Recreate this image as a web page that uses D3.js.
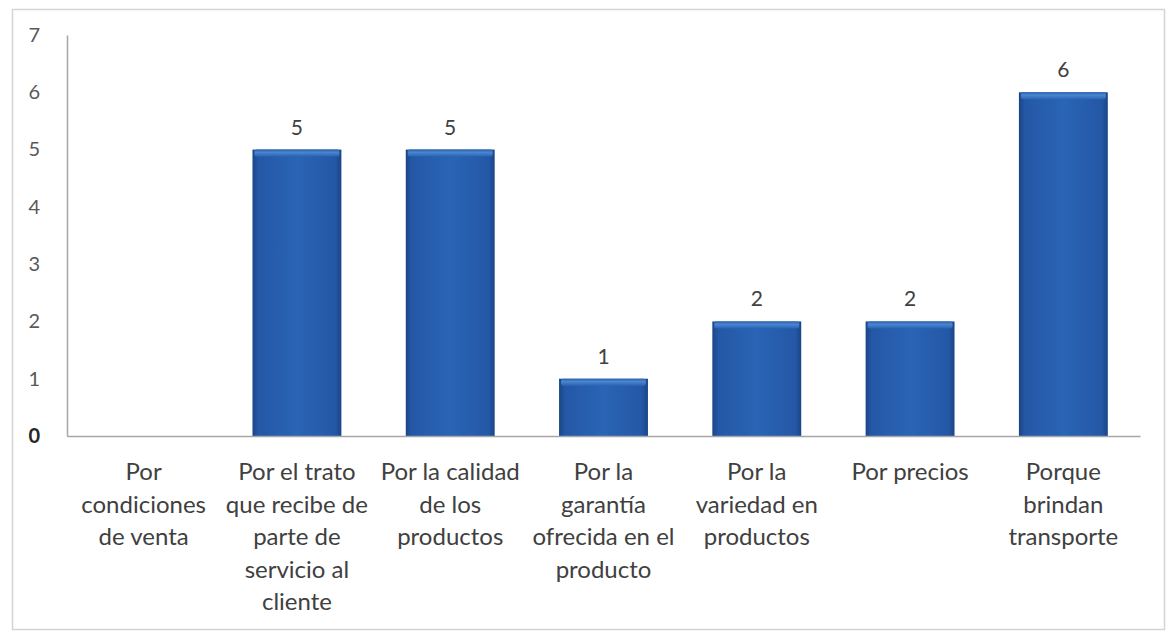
<!DOCTYPE html>
<html><head><meta charset="utf-8">
<script src="https://cdn.jsdelivr.net/npm/d3@7"></script>
<style>
html,body{margin:0;padding:0;background:#fff;}
svg{display:block;font-family:Lato, "Open Sans", sans-serif;}
</style></head>
<body>
<svg id="c" width="1167" height="632"></svg>
<script>
const categories = [
  "Por\ncondiciones\nde venta",
  "Por el trato\nque recibe de\nparte de\nservicio al\ncliente",
  "Por la calidad\nde los\nproductos",
  "Por la\ngarantía\nofrecida en el\nproducto",
  "Por la\nvariedad en\nproductos",
  "Por precios",
  "Porque\nbrindan\ntransporte"
];
const values = [0, 5, 5, 1, 2, 2, 6];
const yTicks = [0, 1, 2, 3, 4, 5, 6, 7];

const svg = d3.select("#c");
const W = 1167, H = 632;
const m = {left: 67, right: 27, top: 35, bottom: 196};

svg.append("rect").attr("x", 12.5).attr("y", 9.5).attr("width", 1152).attr("height", 620)
  .attr("fill", "#fff").attr("stroke", "#d4d4d4").attr("stroke-width", 1.5);

const x = d3.scaleBand().domain(categories).range([m.left, W - m.right]).paddingInner(0.42).paddingOuter(0.21);
const y = d3.scaleLinear().domain([0, 7]).range([H - m.bottom, m.top]);

const defs = svg.append("defs");
const g1 = defs.append("linearGradient").attr("id", "barg").attr("x1", 0).attr("x2", 1).attr("y1", 0).attr("y2", 0);
g1.append("stop").attr("offset", "0%").attr("stop-color", "#1b4587");
g1.append("stop").attr("offset", "7%").attr("stop-color", "#2458a6");
g1.append("stop").attr("offset", "50%").attr("stop-color", "#2a64b5");
g1.append("stop").attr("offset", "93%").attr("stop-color", "#2458a6");
g1.append("stop").attr("offset", "100%").attr("stop-color", "#1b4587");
const g2 = defs.append("linearGradient").attr("id", "topg").attr("x1", 0).attr("x2", 0).attr("y1", 0).attr("y2", 1);
g2.append("stop").attr("offset", "0%").attr("stop-color", "#2a5fae");
g2.append("stop").attr("offset", "40%").attr("stop-color", "#4a86cf");
g2.append("stop").attr("offset", "100%").attr("stop-color", "#2a64b5");

// axes
const yAxis = svg.append("g").attr("transform", `translate(${m.left},0)`)
  .call(d3.axisLeft(y).tickValues(yTicks).tickSize(0).tickPadding(27).tickFormat(d3.format("d")));
yAxis.attr("font-family", null).attr("font-size", null);
yAxis.select(".domain").attr("stroke", "#a6a6a6").attr("stroke-width", 1.5);
yAxis.selectAll("text").attr("font-size", 20)
  .attr("font-weight", d => d === 0 ? "bold" : "normal").attr("fill", d => d === 0 ? "#262626" : "#595959");

const bars = svg.append("g");
const data = categories.map((c, i) => ({c, v: values[i]}));
bars.selectAll("rect.bar").data(data.filter(d => d.v > 0)).join("rect").attr("class", "bar")
  .attr("x", d => x(d.c)).attr("width", x.bandwidth())
  .attr("y", d => y(d.v)).attr("height", d => y(0) - y(d.v))
  .attr("fill", "url(#barg)");
bars.selectAll("rect.top").data(data.filter(d => d.v > 0)).join("rect").attr("class", "top")
  .attr("x", d => x(d.c) + 2).attr("width", x.bandwidth() - 4)
  .attr("y", d => y(d.v)).attr("height", 7).attr("rx", 2)
  .attr("fill", "url(#topg)");

const xAxis = svg.append("g").attr("transform", `translate(0,${y(0)})`)
  .call(d3.axisBottom(x).tickSize(0).tickFormat(""));
xAxis.select(".domain").attr("stroke", "#a6a6a6").attr("stroke-width", 1.5);

// category labels
const lab = svg.append("g");
data.forEach(d => {
  const t = lab.append("text").attr("x", x(d.c) + x.bandwidth() / 2).attr("y", y(0) + 44)
    .attr("text-anchor", "middle").attr("font-size", 24).attr("fill", "#404040");
  d.c.split("\n").forEach((ln, j) => {
    t.append("tspan").attr("x", x(d.c) + x.bandwidth() / 2).attr("dy", j === 0 ? 0 : 32.5).text(ln);
  });
});

// value labels
svg.append("g").selectAll("text").data(data.filter(d => d.v > 0)).join("text")
  .attr("x", d => x(d.c) + x.bandwidth() / 2).attr("y", d => y(d.v) - 15)
  .attr("text-anchor", "middle").attr("font-size", 21).attr("fill", "#404040")
  .text(d => d.v);
</script>
</body></html>
